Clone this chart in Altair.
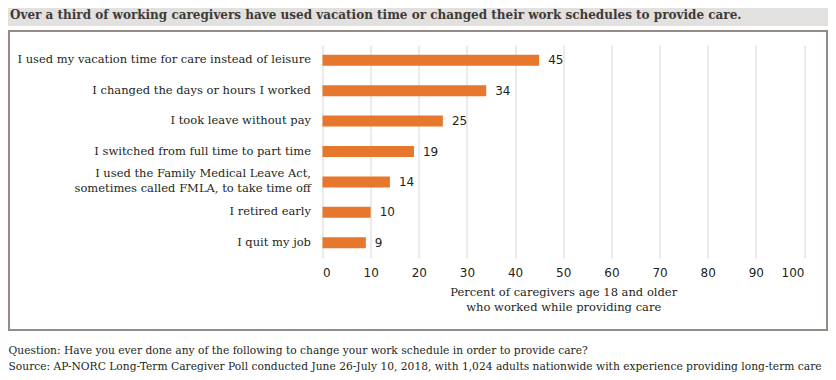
import altair as alt
import pandas as pd

categories = [
    "I used my vacation time for care instead of leisure",
    "I changed the days or hours I worked",
    "I took leave without pay",
    "I switched from full time to part time",
    "I used the Family Medical Leave Act,|sometimes called FMLA, to take time off",
    "I retired early",
    "I quit my job",
]
values = [45, 34, 25, 19, 14, 10, 9]
x_ticks = [0, 10, 20, 30, 40, 50, 60, 70, 80, 90, 100]

title_text = "Over a third of working caregivers have used vacation time or changed their work schedules to provide care."
footer_lines = [
    "Question: Have you ever done any of the following to change your work schedule in order to provide care?",
    "Source: AP-NORC Long-Term Caregiver Poll conducted June 26-July 10, 2018, with 1,024 adults nationwide with experience providing long-term care",
]

df = pd.DataFrame({"cat": categories, "val": values})

FONT = "DejaVu Serif"
BAR = "#e8772e"
TXT = "#231f20"

y_enc = alt.Y(
    "cat:N",
    sort=categories,
    axis=alt.Axis(
        title=None, domain=False, ticks=False, labelPadding=12,
        labelFont=FONT, labelFontSize=11.5, labelColor=TXT,
        labelExpr="split(datum.label, '|')", labelLineHeight=15,
        labelOffset={"condition": {"test": "indexof(datum.label, '|') >= 0", "value": -7.5}, "value": 0},
        labelLimit=400,
    ),
)
x_enc = alt.X(
    "val:Q",
    scale=alt.Scale(domain=[0, 100], nice=False),
    axis=alt.Axis(
        values=x_ticks, title=["Percent of caregivers age 18 and older", "who worked while providing care"],
        titleFont=FONT, titleFontSize=11.5, titleFontWeight="normal", titleColor=TXT,
        titleLineHeight=15, titlePadding=8,
        labelFont="DejaVu Sans", labelFontSize=12, labelColor=TXT, labelPadding=9,
        domain=False, ticks=False, grid=True, gridColor="#d6d6d6", gridWidth=1,
    ),
)

bars = alt.Chart(df).mark_bar(color=BAR, size=11).encode(x=x_enc, y=y_enc)
labels = alt.Chart(df).mark_text(
    align="left", baseline="middle", dx=9, font="DejaVu Sans", fontSize=12, color=TXT
).encode(x="val:Q", y=alt.Y("cat:N", sort=categories), text="val:Q")

deco = pd.DataFrame({"k": [0]})
band = alt.Chart(deco).mark_rect(fill="#e3e1df").encode(
    x=alt.value(-314.5), x2=alt.value(505.5), y=alt.value(-37), y2=alt.value(-19)
)
title = alt.Chart(deco).mark_text(
    text=title_text, align="left", baseline="middle", font=FONT, fontWeight="bold",
    fontSize=12, color="#3d3a38"
).encode(x=alt.value(-312.5), y=alt.value(-30.5))
box = alt.Chart(deco).mark_rect(fill=None, stroke="#958a86", strokeWidth=2).encode(
    x=alt.value(-313.5), x2=alt.value(504.5), y=alt.value(-14), y2=alt.value(285)
)
foot1 = alt.Chart(deco).mark_text(
    text=footer_lines[0], align="left", baseline="middle", font=FONT, fontSize=10.7, color=TXT
).encode(x=alt.value(-314), y=alt.value(306))
foot2 = alt.Chart(deco).mark_text(
    text=footer_lines[1], align="left", baseline="middle", font=FONT, fontSize=10.7, color=TXT
).encode(x=alt.value(-314), y=alt.value(321.5))

chart = alt.layer(band, title, box, bars, labels, foot1, foot2).properties(
    width=481.5, height=213,
    autosize=alt.AutoSizeParams(type="none"),
    padding={"left": 314.5, "top": 37, "right": 24, "bottom": 114},
).configure_view(stroke=None)

chart.save("out.html", embed_options={"renderer": "svg", "actions": False})
